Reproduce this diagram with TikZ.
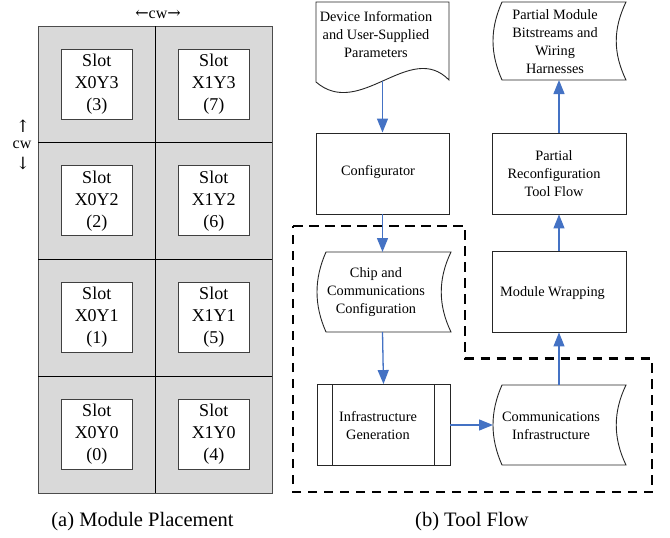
\documentclass[tikz,border=0pt]{standalone}
\usepackage{fontspec}
\setmainfont{Liberation Serif}
\newfontfamily\arrowfont{DejaVu Serif}
\usetikzlibrary{arrows.meta}
\definecolor{flowblue}{RGB}{68,114,196}
\definecolor{slotgray}{RGB}{217,217,217}

% stored-data shape: #1 = left bulge x, #2 = right top x, #3 = top y, #4 = bottom y
\newcommand{\sdshape}[4]{%
  \draw[shapeline, fill=white] ({#1+9},#3) -- (#2,#3)
    .. controls ({#2-13},{#3+27}) and ({#2-13},{#4-27}) .. (#2,#4)
    -- ({#1+9},#4)
    .. controls ({#1-3},{#4-27}) and ({#1-3},{#3+27}) .. cycle;}

\begin{document}
\begin{tikzpicture}[x=1pt,y=-1pt,
  shapeline/.style={draw=black!85, line width=0.9pt},
  flowbox/.style={shapeline, fill=white, minimum width=133pt, minimum height=81pt, inner sep=0pt},
  flowtext/.style={font=\fontsize{14.3}{18}\selectfont, align=center, inner sep=0pt},
  slotbox/.style={draw=black!75, line width=0.9pt, fill=white, minimum width=70.5pt,
    minimum height=70pt, inner sep=0pt, align=center, font=\fontsize{18}{22}\selectfont},
  cwtext/.style={font=\fontsize{16}{18}\selectfont, align=center, inner sep=0pt},
  cwarrow/.style={font=\arrowfont\fontsize{17}{17}\selectfont, inner sep=0pt},
  captiontext/.style={font=\fontsize{20.5}{24}\selectfont, inner sep=0pt},
  flowarrow/.style={draw=flowblue, line width=1.3pt, -{Triangle[length=14pt,width=11pt]}},
  region/.style={draw=black, line width=2.8pt, dash pattern=on 9.5pt off 6.5pt, line join=miter}
]
\useasboundingbox (0,0) rectangle (670,538);

% ---------- (a) module placement grid ----------
\fill[slotgray] (38,26) rectangle (272,493);
\draw[black!70, line width=0.9pt] (38,26) rectangle (272,493);
\foreach \yy in {142.75,259.5,376.25}
  \draw[black, line width=0.8pt] (38,\yy) -- (272,\yy);
\draw[black, line width=0.8pt] (155.5,26) -- (155.5,493);

\foreach \c in {0,1}
  \foreach \r in {0,...,3} {
    \pgfmathtruncatemacro{\idx}{4*\c+\r}
    \node[slotbox] (slot\c\r) at ({96.75+117*\c},{26+(3-\r)*116.75+58})
      {Slot\\X\c Y\r\\(\idx)};
  }

% cell width markers
\node[cwtext] (cwtop) at (158,14) {{\arrowfont\fontsize{16}{18}\selectfont ←}cw{\arrowfont\fontsize{16}{18}\selectfont →}};
\node[cwtext] (cwleft) at (22,145) {cw};
\node[cwarrow] (cwup) at (23,126) {↑};
\node[cwarrow] (cwdown) at (23,164) {↓};

\node[captiontext] (capa) at (142.5,522) {(a) Module Placement};
\node[captiontext] (capb) at (472,522) {(b) Tool Flow};

% ---------- (b) tool flow ----------
% infrastructure region
\draw[region] (293,226) -- (465,226) -- (465,358.5) -- (652,358.5) -- (652,492) -- (293,492) -- cycle;

% device information document
\draw[shapeline, fill=white] (316,82) -- (316,2) -- (449,2) -- (449,80)
  .. controls (410,40) and (360,120) .. (316,82);
\coordinate (docbot) at (382.5,81);
\node[flowtext] (doctxt) at (376,35) {Device Information\\and User-Supplied\\Parameters};

% configurator
\node[flowbox] (cfg) at (382.5,173.5) {};
\node[flowtext] (cfgtxt) at (378,172) {Configurator};

% chip and communications configuration
\sdshape{317}{451}{252}{332}
\coordinate (chiptop) at (382.5,252);
\coordinate (chipbot) at (382.5,332);
\node[flowtext] (chiptxt) at (376,292) {Chip and\\Communications\\Configuration};

% infrastructure generation
\node[flowbox] (gen) at (383.5,425) {};
\draw[shapeline] ([xshift=16pt]gen.north west) -- ([xshift=16pt]gen.south west);
\draw[shapeline] ([xshift=-16pt]gen.north east) -- ([xshift=-16pt]gen.south east);
\node[flowtext] (gentxt) at (378,425.5) {Infrastructure\\Generation};

% communications infrastructure
\sdshape{493}{626}{385}{465}
\coordinate (commleft) at (493,425);
\coordinate (commtop) at (559,385);
\node[flowtext] (commtxt) at (551,425.5) {Communications\\Infrastructure};

% module wrapping
\node[flowbox, minimum width=134pt] (wrap) at (559,291.5) {};
\node[flowtext] (wraptxt) at (552.5,293) {Module Wrapping};

% partial reconfiguration tool flow
\node[flowbox, minimum width=134pt] (pr) at (559,173.5) {};
\node[flowtext] (prtxt) at (554,174) {Partial\\Reconfiguration\\Tool Flow};

% partial module bitstreams
\sdshape{493}{626}{2}{80}
\coordinate (pmbot) at (559,80);
\node[flowtext] (pmtxt) at (555,42) {Partial Module\\Bitstreams and\\Wiring\\Harnesses};

% connectors
\draw[flowarrow] (docbot) -- (cfg.north);
\draw[flowarrow] (cfg.south) -- (chiptop);
\draw[flowarrow] (chipbot) -- (gen.north);
\draw[flowarrow] (gen.east) -- (commleft);
\draw[flowarrow] (commtop) -- (wrap.south);
\draw[flowarrow] (wrap.north) -- (pr.south);
\draw[flowarrow] (pr.north) -- (pmbot);
\end{tikzpicture}
\end{document}
